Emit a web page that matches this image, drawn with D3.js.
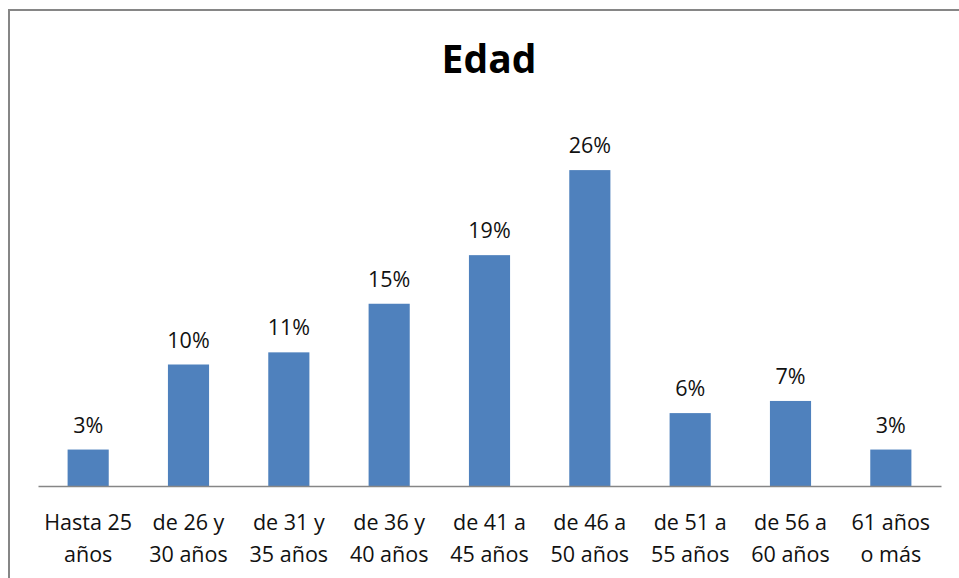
<!DOCTYPE html>
<html><head><meta charset="utf-8">
<script src="https://cdn.jsdelivr.net/npm/d3@7"></script>
<style>body{margin:0;background:#fff}svg{display:block}</style>
</head><body>
<script>
const title = "Edad";
const categories = [
  ["Hasta 25", "años"],
  ["de 26 y", "30 años"],
  ["de 31 y", "35 años"],
  ["de 36 y", "40 años"],
  ["de 41 a", "45 años"],
  ["de 46 a", "50 años"],
  ["de 51 a", "55 años"],
  ["de 56 a", "60 años"],
  ["61 años", "o más"]
];
const values = [0.03, 0.10, 0.11, 0.15, 0.19, 0.26, 0.06, 0.07, 0.03];

const W = 959, H = 578;
const svg = d3.select("body").append("svg").attr("width", W).attr("height", H);
const font = "'Open Sans', 'Liberation Sans', sans-serif";

// outer chart border (right and bottom run off-canvas)
svg.append("rect").attr("x", 9).attr("y", 10).attr("width", 960).attr("height", 580)
  .attr("fill", "none").attr("stroke", "#868686").attr("stroke-width", 2);

const x = d3.scaleBand().domain(d3.range(categories.length)).range([38, 941]).paddingInner(0.59).paddingOuter(0.295);
const y = d3.scaleLinear().domain([0, 0.30]).range([486, 121.5]);

svg.append("text").attr("x", 489).attr("y", 73).attr("text-anchor", "middle")
  .attr("font-family", font).attr("font-weight", "bold").attr("font-size", 39).attr("fill", "#000").text(title);

svg.selectAll("rect.bar").data(values).join("rect").attr("class", "bar")
  .attr("x", (d, i) => x(i)).attr("width", x.bandwidth())
  .attr("y", d => y(d)).attr("height", d => y(0) - y(d)).attr("fill", "#4F81BD");

const xAxis = d3.axisBottom(x).tickSize(0).tickFormat("");
const gx = svg.append("g").attr("transform", `translate(0,${y(0)})`).call(xAxis);
gx.select(".domain").attr("stroke", "#868686").attr("stroke-width", 1.3);

svg.selectAll("text.lbl").data(values).join("text").attr("class", "lbl")
  .attr("x", (d, i) => x(i) + x.bandwidth() / 2).attr("y", d => y(d) - 17)
  .attr("text-anchor", "middle").attr("font-family", font).attr("font-size", 21.5).attr("fill", "#111")
  .text(d => d3.format(".0%")(d));

const cat = svg.selectAll("text.cat").data(categories).join("text").attr("class", "cat")
  .attr("text-anchor", "middle").attr("font-family", font).attr("font-size", 21.5).attr("fill", "#111");
cat.each(function(d, i) {
  const cx = x(i) + x.bandwidth() / 2;
  d3.select(this).selectAll("tspan").data(d).join("tspan")
    .attr("x", cx).attr("y", (t, j) => 530 + j * 32).text(t => t);
});
</script>
</body></html>
